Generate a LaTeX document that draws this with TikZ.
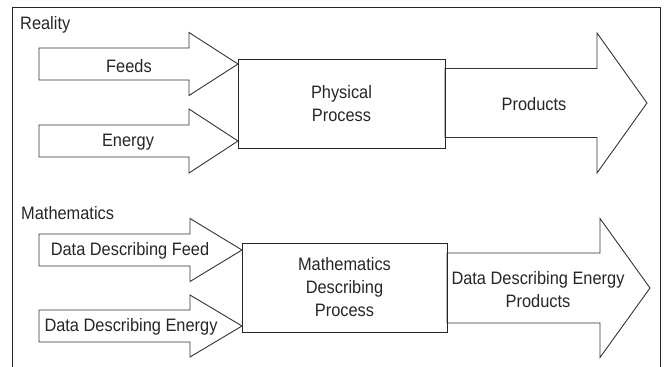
\documentclass[tikz,border=0pt]{standalone}
\usepackage{fontspec}
\setmainfont{Liberation Sans}[FakeStretch=0.91]
\usetikzlibrary{calc}
\newcommand{\fatarrow}[6]{%
  \draw[arrline] (#1,#2-#3) -- (#4,#2-#3) -- (#4,#2-#5) -- (#6,#2)
    -- (#4,#2+#5) -- (#4,#2+#3) -- (#1,#2+#3) -- cycle;}

\begin{document}
\begin{tikzpicture}[x=1pt, y=-1pt,
    arrline/.style={draw=black!80, line width=0.9pt, line join=miter},
    procbox/.style={draw=black!85, line width=0.9pt, align=center,
      inner sep=0pt},
    lbl/.style={inner sep=0pt, align=center, text=black!85,
      font=\fontsize{18}{23}\selectfont}]
  \useasboundingbox (0,0) rectangle (665,367);

  % frame, open at the bottom
  \draw[black!85, line width=0.9pt] (12,367) -- (12,7) -- (660,7) -- (660,367);

  % reality
  \node[lbl, anchor=west] (real) at (20,25) {Reality};

  \fatarrow{39}{64}{16}{189}{31.5}{238}
  \fatarrow{39}{141}{16}{189}{32}{238}
  \fatarrow{445}{103}{34.5}{597}{70}{647}

  \node[procbox, minimum width=207pt, minimum height=89pt]
    (phys) at (341.5,103.5) {};
  \node[lbl] (physt) at (phys.center) {Physical\\Process};

  \node[lbl] (feeds) at (129,66) {Feeds};
  \node[lbl] (energy) at (128,142) {Energy};
  \node[lbl] (prod) at (534,104) {Products};

  % mathematics
  \node[lbl, anchor=west] (maths) at (21,213) {Mathematics};

  \fatarrow{39}{250}{16}{190}{31.5}{242}
  \fatarrow{39}{326}{16}{190}{31}{242}
  \fatarrow{447}{288}{35}{600}{69.5}{650}

  \node[procbox, minimum width=205pt, minimum height=89pt]
    (mathbox) at (344.5,287.5) {};
  \node[lbl] (matht) at (mathbox.center) {Mathematics\\Describing\\Process};

  \node[lbl] (dfeed) at (130,251) {Data Describing Feed};
  \node[lbl] (denergy) at (131,327) {Data Describing Energy};
  \node[lbl] (dprod) at (538,290) {Data Describing Energy\\Products};
\end{tikzpicture}
\end{document}
